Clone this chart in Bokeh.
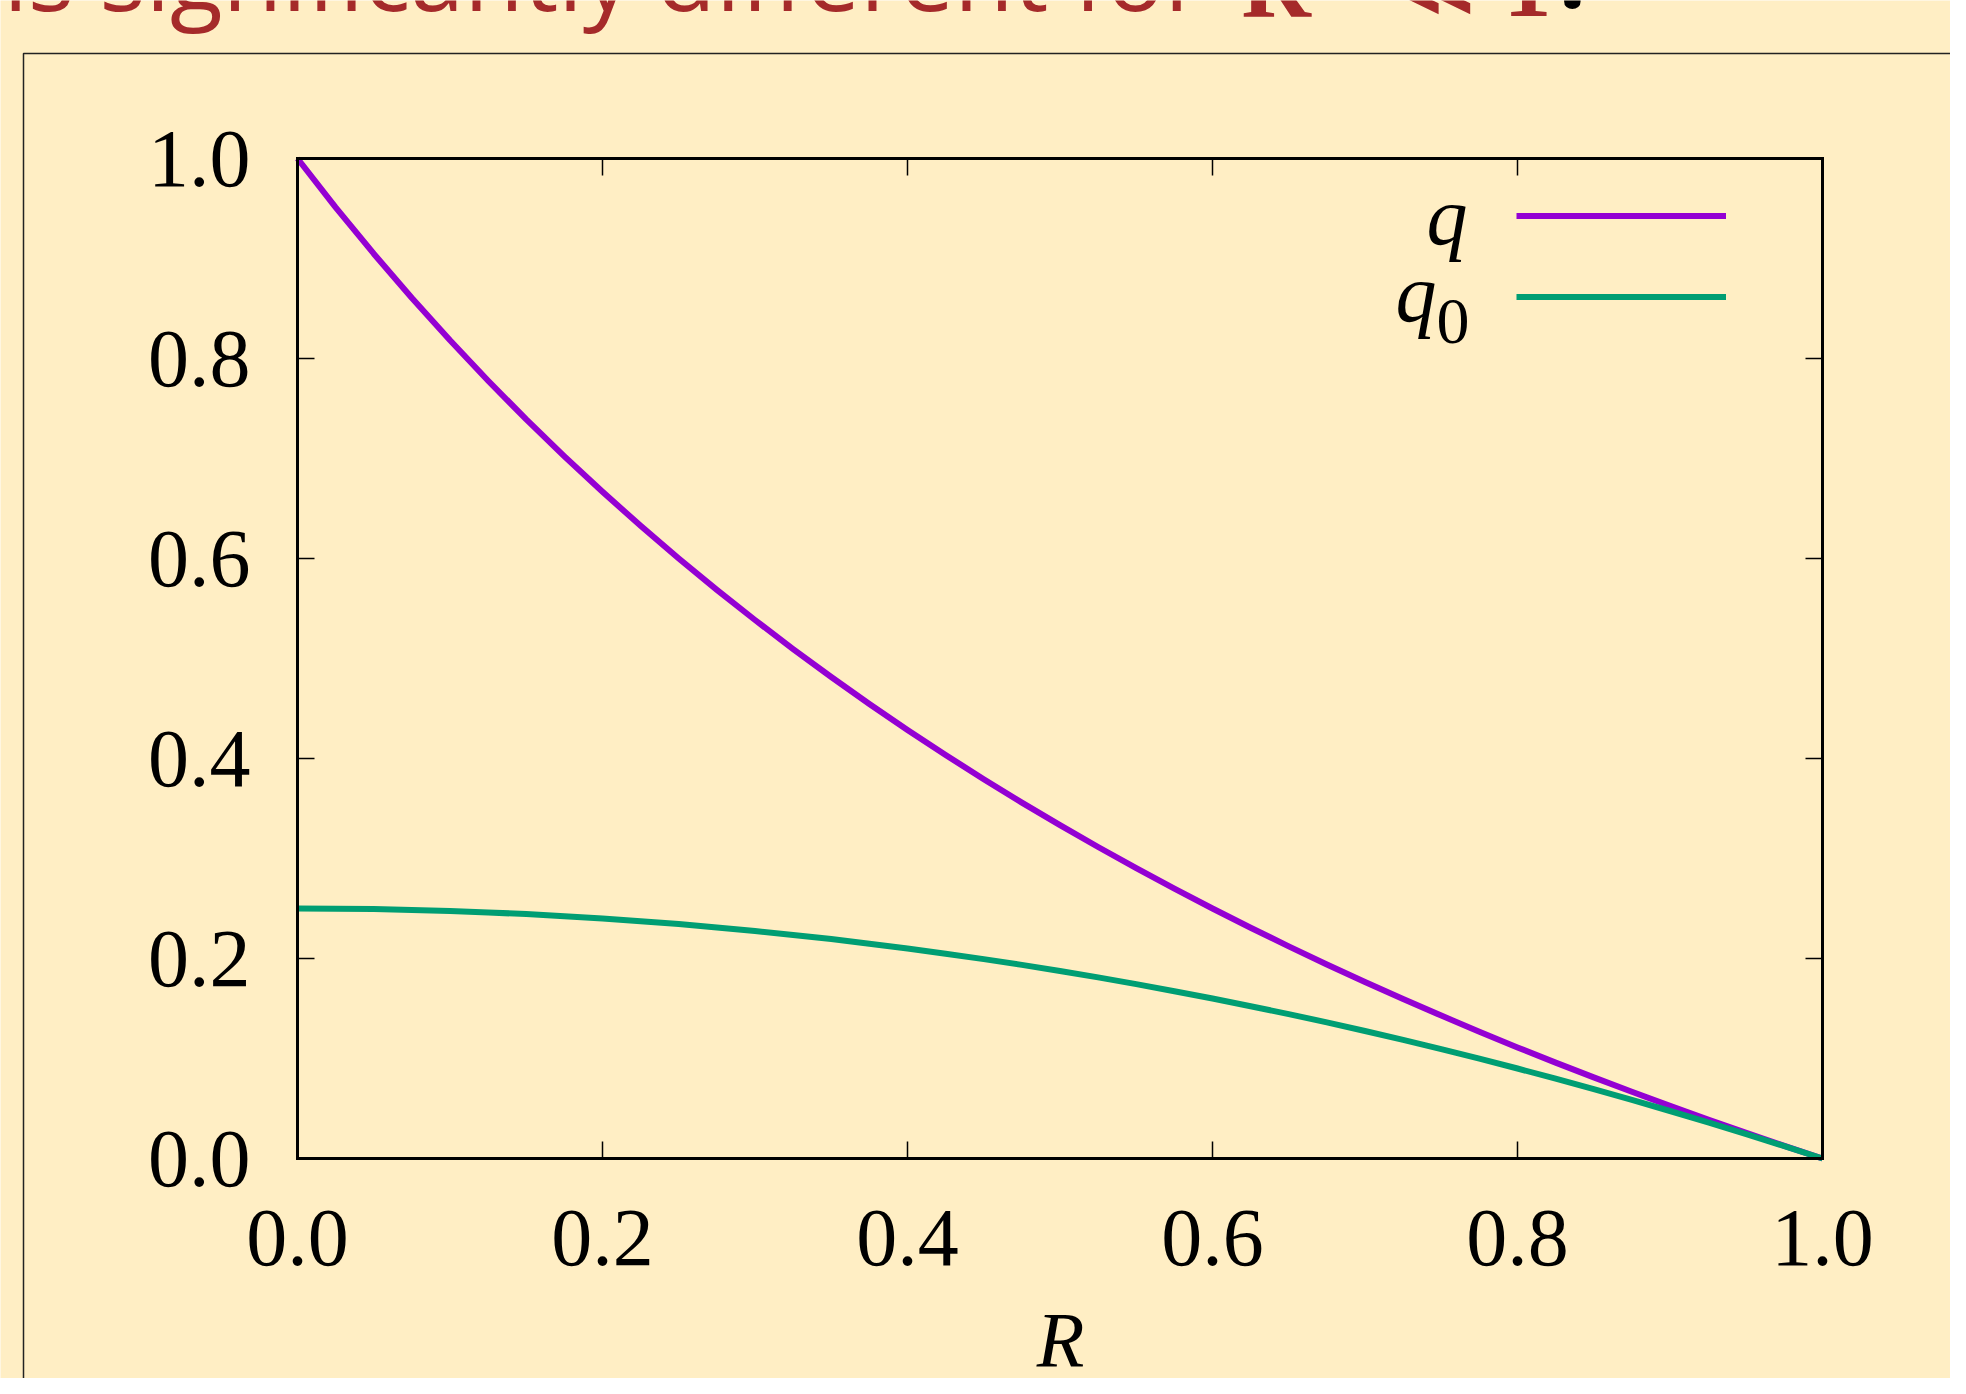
from bokeh.plotting import figure
from bokeh.models import (Range1d, LinearAxis, FixedTicker, Label, BoxAnnotation,
                          Legend, LegendItem, ColumnDataSource)
from bokeh.core.properties import value
from bokeh.embed import file_html
from bokeh.resources import INLINE

# ---- data ----
R = [0.000, 0.025, 0.050, 0.075, 0.100, 0.125, 0.150, 0.175, 0.200, 0.225,
     0.250, 0.275, 0.300, 0.325, 0.350, 0.375, 0.400, 0.425, 0.450, 0.475,
     0.500, 0.525, 0.550, 0.575, 0.600, 0.625, 0.650, 0.675, 0.700, 0.725,
     0.750, 0.775, 0.800, 0.825, 0.850, 0.875, 0.900, 0.925, 0.950, 0.975, 1.000]
q = [1.0000, 0.9512, 0.9048, 0.8605, 0.8182, 0.7778, 0.7391, 0.7021, 0.6667, 0.6327,
     0.6000, 0.5686, 0.5385, 0.5094, 0.4815, 0.4545, 0.4286, 0.4035, 0.3793, 0.3559,
     0.3333, 0.3115, 0.2903, 0.2698, 0.2500, 0.2308, 0.2121, 0.1940, 0.1765, 0.1594,
     0.1429, 0.1268, 0.1111, 0.0959, 0.0811, 0.0667, 0.0526, 0.0390, 0.0256, 0.0127, 0.0000]
q0 = [0.2500, 0.2498, 0.2494, 0.2486, 0.2475, 0.2461, 0.2444, 0.2423, 0.2400, 0.2373,
      0.2344, 0.2311, 0.2275, 0.2236, 0.2194, 0.2148, 0.2100, 0.2048, 0.1994, 0.1936,
      0.1875, 0.1811, 0.1744, 0.1673, 0.1600, 0.1523, 0.1444, 0.1361, 0.1275, 0.1186,
      0.1094, 0.0998, 0.0900, 0.0798, 0.0694, 0.0586, 0.0475, 0.0361, 0.0244, 0.0123, 0.0000]
tick_values = [0.0, 0.2, 0.4, 0.6, 0.8, 1.0]
tick_labels = ["0.0", "0.2", "0.4", "0.6", "0.8", "1.0"]
x_label = "R"
legend_labels = ["q", "q", "0"]
title_parts = ["is significantly different for ", "R", "\u226a", "1", "."]

BG = "#FFEEC4"
PURPLE = "#9400D3"
GREEN = "#009E73"
TITLE_RED = "#A52A2A"
SERIF = "Liberation Serif"

# plot box placement in canvas pixels
FL, FR, FT, FB = 297, 1822, 158, 1158
W, H = 1950, 1378


def px(xp):
    return (xp - FL) / (FR - FL)


def py(yp):
    return (FB - yp) / (FB - FT)


p = figure(width=W, height=H, output_backend="svg", toolbar_location=None,
           x_range=Range1d(px(0), px(W)), y_range=Range1d(py(H), py(0)),
           x_axis_location=None, y_axis_location=None, min_border=0)
p.background_fill_color = BG
p.border_fill_color = BG
p.outline_line_color = None
p.xgrid.visible = False
p.ygrid.visible = False

overrides = {v: t for v, t in zip(tick_values, tick_labels)}


def make_axis(loc, show_labels, standoff=0):
    ax = LinearAxis(ticker=FixedTicker(ticks=tick_values), fixed_location=loc,
                    bounds=(0, 1))
    ax.major_tick_in = 17
    ax.major_tick_out = 0
    ax.major_tick_line_width = 1.5
    ax.major_tick_line_color = "black"
    ax.minor_tick_line_color = None
    ax.axis_line_color = "black"
    ax.axis_line_width = 3
    ax.axis_line_cap = "square"
    if show_labels:
        ax.major_label_overrides = overrides
        ax.major_label_text_font = SERIF
        ax.major_label_text_font_size = "82px"
        ax.major_label_text_color = "black"
        ax.major_label_standoff = standoff
    else:
        ax.major_label_text_alpha = 0
        ax.major_label_standoff = 0
    return ax


p.add_layout(make_axis(0, True, 52), "below")
p.add_layout(make_axis(0, True, 47), "left")
p.add_layout(make_axis(1, False), "above")
p.add_layout(make_axis(1, False), "right")

src = ColumnDataSource(dict(R=R, q=q, q0=q0))
r1 = p.line("R", "q", source=src, line_color=PURPLE, line_width=6, line_join="round")
r2 = p.line("R", "q0", source=src, line_color=GREEN, line_width=6, line_join="round")

legend = Legend(items=[LegendItem(label=value(""), renderers=[r1]),
                       LegendItem(label=value(""), renderers=[r2])],
                location=(1516, H - 336.5),
                padding=0, margin=0, spacing=0,
                glyph_width=210, glyph_height=81,
                label_standoff=0, label_width=0, label_height=81,
                label_text_alpha=0,
                border_line_color=None, background_fill_alpha=0)
p.add_layout(legend)


def shift(size):
    # empirical offset between requested and drawn alphabetic baseline
    return 0.29 * size


# legend texts (label left of the sample, as in gnuplot)
p.add_layout(Label(x=px(1467), y=py(240 - shift(82)), text=legend_labels[0], text_font=SERIF,
                   text_font_style="italic", text_font_size="82px", text_align="right",
                   text_baseline="alphabetic", text_color="black"))
p.add_layout(Label(x=px(1436), y=py(317 - shift(82)), text=legend_labels[1], text_font=SERIF,
                   text_font_style="italic", text_font_size="82px", text_align="right",
                   text_baseline="alphabetic", text_color="black"))
p.add_layout(Label(x=px(1469), y=py(340 - shift(66)), text=legend_labels[2], text_font=SERIF,
                   text_font_size="66px", text_align="right",
                   text_baseline="alphabetic", text_color="black"))

# x axis label
p.add_layout(Label(x=px(1060), y=py(1362 - shift(78)), text=x_label, text_font=SERIF,
                   text_font_style="italic", text_font_size="78px", text_align="center",
                   text_baseline="alphabetic", text_color="black"))

# outer slide box
p.add_layout(BoxAnnotation(left=px(23), right=px(2100), top=py(53), bottom=py(1500),
                           fill_alpha=0, line_color="#222222", line_alpha=1.0,
                           line_width=1.5, level="underlay"))

# cut-off slide text at the top
sans_base = py(16 - shift(97) - 15)
serif_base = py(16 - shift(96) - 4)
p.add_layout(Label(x=px(3), y=sans_base, text=title_parts[0], text_font="Open Sans",
                   text_font_size="97px", text_color=TITLE_RED, text_baseline="alphabetic"))
p.add_layout(Label(x=px(1241), y=serif_base, text=title_parts[1], text_font=SERIF,
                   text_font_style="bold", text_font_size="96px", text_color=TITLE_RED,
                   text_baseline="alphabetic"))
p.add_layout(Label(x=px(1386), y=serif_base, text=title_parts[2], text_font="DejaVu Serif",
                   text_font_style="bold", text_font_size="84px", text_color=TITLE_RED,
                   text_baseline="alphabetic"))
p.add_layout(Label(x=px(1503), y=serif_base, text=title_parts[3], text_font=SERIF,
                   text_font_style="bold", text_font_size="96px", text_color=TITLE_RED,
                   text_baseline="alphabetic"))
p.add_layout(Label(x=px(1558), y=sans_base, text=title_parts[4], text_font="Open Sans",
                   text_font_style="bold", text_font_size="97px", text_color="black",
                   text_baseline="alphabetic"))

open("out.html", "w").write(file_html(p, INLINE))
